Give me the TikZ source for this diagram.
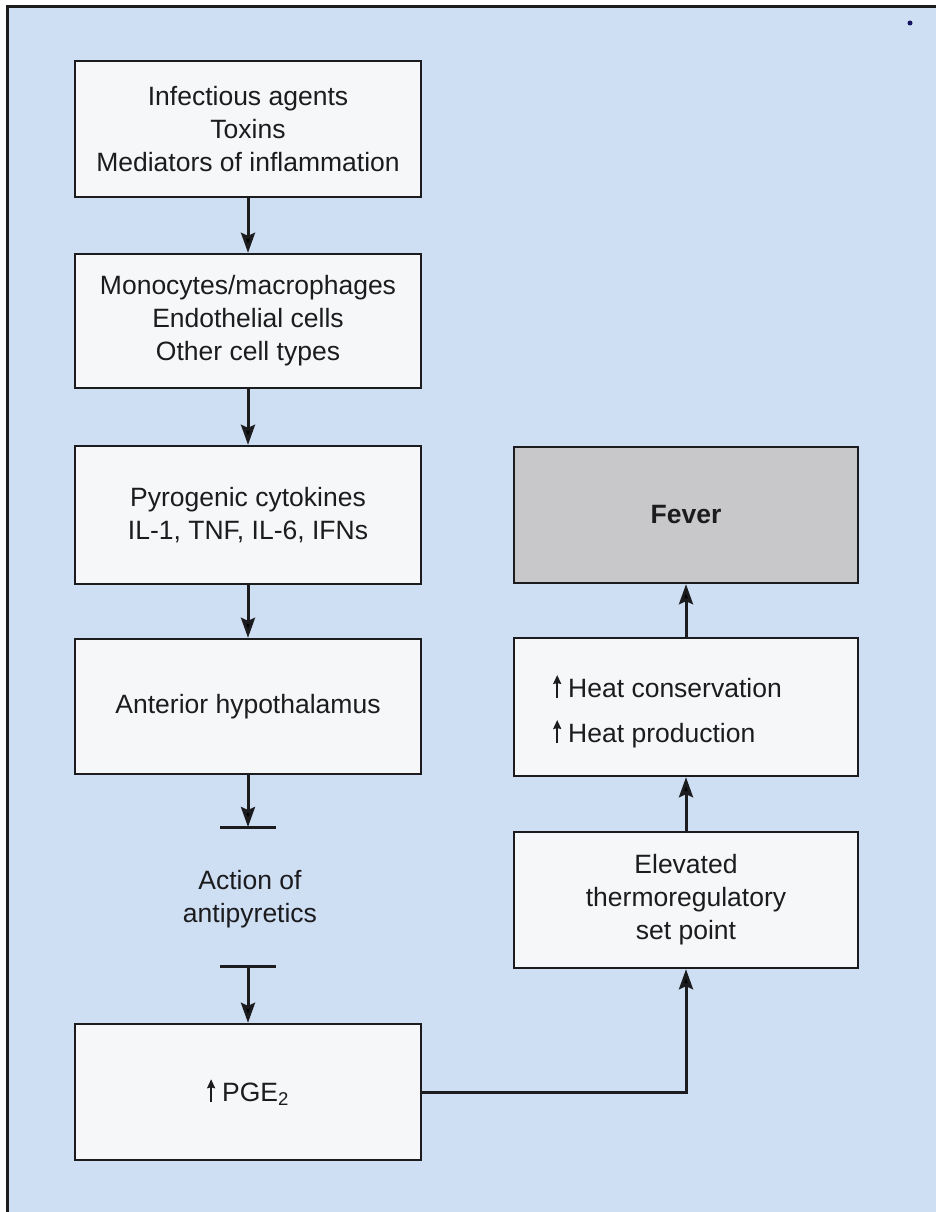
\documentclass[tikz,border=0pt]{standalone}
\usepackage{fontspec}
\setmainfont{Liberation Sans}
\usetikzlibrary{arrows.meta}
\definecolor{bgblue}{RGB}{206,222,243}
\definecolor{boxfill}{RGB}{246,247,249}
\definecolor{fevfill}{RGB}{200,200,202}
\definecolor{ink}{RGB}{28,28,30}
\newcommand\myuparrow{\tikz[baseline=0pt]\draw[line width=1.8pt,draw=ink,-{Stealth[length=9pt,width=8pt,inset=1pt]}] (0pt,-1pt) -- (0pt,22pt);\hspace{7pt}}
\begin{document}
\begin{tikzpicture}[x=1pt,y=-1pt,
  box/.style={draw=ink, line width=2.4pt, fill=boxfill, minimum width=346pt, minimum height=136pt, inner sep=0pt, align=center, text=ink, font=\fontsize{26.5}{33}\selectfont},
  txt/.style={inner sep=0pt, align=center, text=ink, font=\fontsize{26.5}{33}\selectfont},
  arr/.style={draw=ink, line width=3pt, -{Stealth[length=20pt,width=14pt,inset=3pt]}},
  bar/.style={draw=ink, line width=3pt}]
\useasboundingbox (0,0) rectangle (936,1212);
\fill[white] (0,0) rectangle (936,1212);
\fill[bgblue] (7,7) rectangle (936,1212);
\draw[line width=3pt, ink] (7,1212) -- (7,7) -- (936,7);
\fill[ink!70!blue] (910,23) circle (2.5pt);

% left column
\node[box] (inf) at (248,129) {Infectious agents\\Toxins\\Mediators of inflammation};
\node[box, minimum height=134pt] (mono) at (248,321) {Monocytes/macrophages\\Endothelial cells\\Other cell types};
\node[box, minimum height=138pt] (pyro) at (248,515) {Pyrogenic cytokines\\IL-1, TNF, IL-6, IFNs};
\node[box, minimum height=135pt] (ant) at (248,706.5) {Anterior hypothalamus};
\node[txt] (act) at (250,899.5) {Action of\\antipyretics};
\node[box] (pge) at (248,1092) {\myuparrow PGE\textsubscript{2}};

\coordinate (tb1) at (ant.south |- 0,827);
\coordinate (tb2) at (ant.south |- 0,966);

% right column
\node[box, minimum width=344pt, fill=fevfill, font=\fontsize{26.5}{33}\selectfont\bfseries] (fever) at (686,515) {Fever};
\node[box, minimum width=344pt, minimum height=138pt] (heat) at (686,707) {};
\node[txt, anchor=base west] (heat1) at (553,697) {\myuparrow Heat conservation};
\node[txt, anchor=base west] (heat2) at (553,742) {\myuparrow Heat production};
\node[box, minimum width=344pt] (elev) at (686,900) {Elevated\\thermoregulatory\\set point};

% connectors
\draw[arr] (inf) -- (mono);
\draw[arr] (mono) -- (pyro);
\draw[arr] (pyro) -- (ant);
\draw[arr] (ant) -- (tb1);
\draw[bar] ([xshift=-28pt]tb1) -- ([xshift=28pt]tb1);
\draw[bar] ([xshift=-28pt]tb2) -- ([xshift=28pt]tb2);
\draw[arr] (tb2) -- (pge);
\draw[arr] (pge.east) -| (elev.south);
\draw[arr] (elev) -- (heat);
\draw[arr] (heat) -- (fever);
\end{tikzpicture}
\end{document}
